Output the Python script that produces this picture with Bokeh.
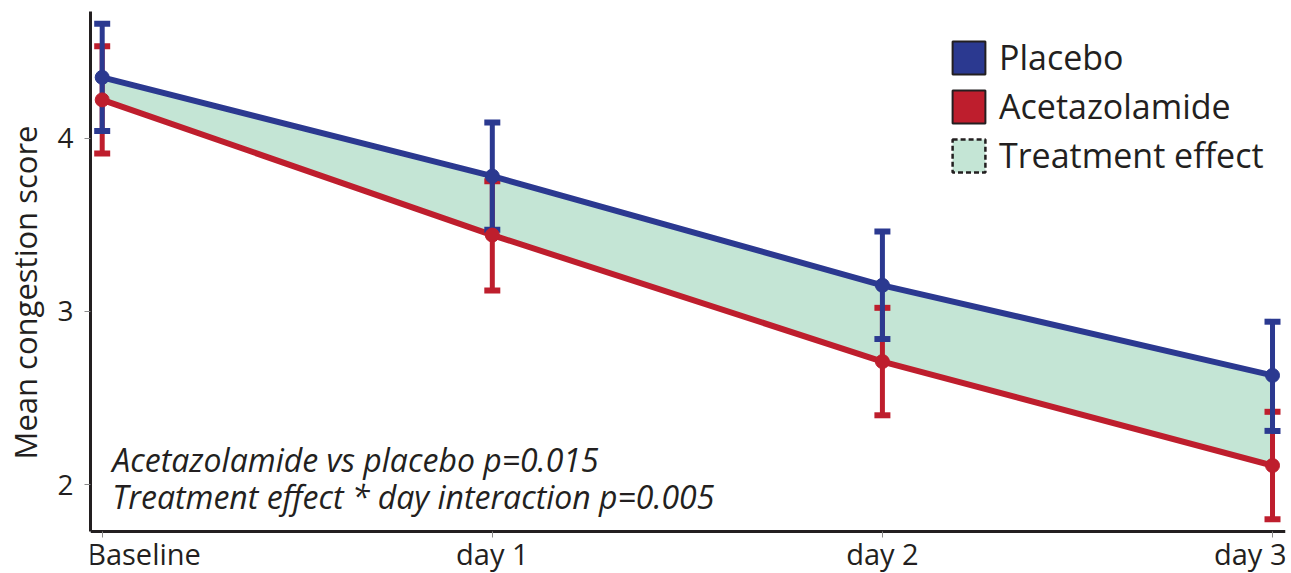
from bokeh.plotting import figure
from bokeh.models import Range1d, FixedTicker, Label, Legend, LegendItem
from bokeh.embed import file_html
from bokeh.resources import INLINE

# ---- data ----
days = ["Baseline", "day 1", "day 2", "day 3"]
day_idx = [0, 1, 2, 3]
placebo_mean = [4.35, 3.78, 3.15, 2.63]
placebo_upper = [4.66, 4.09, 3.46, 2.94]
placebo_lower = [4.04, 3.47, 2.84, 2.31]
aceta_mean = [4.22, 3.44, 2.71, 2.11]
aceta_upper = [4.53, 3.75, 3.02, 2.42]
aceta_lower = [3.91, 3.12, 2.40, 1.80]
y_ticks = [2, 3, 4]
legend_labels = ["Placebo", "Acetazolamide", "Treatment effect"]
notes = ["Acetazolamide vs placebo p=0.015",
         "Treatment effect * day interaction p=0.005"]

BLUE = "#2B3990"
RED = "#BE1E2D"
GREEN = "#C4E5D5"
DARK = "#231F20"
FONT = "Open Sans"

Y_AXIS_POS = 1.729  # value where the x axis line sits
Y_TOP = 4.730

p = figure(width=1291, height=573, output_backend="svg", toolbar_location=None,
           x_range=Range1d(-0.030, 3.0333), y_range=Range1d(1.487, Y_TOP),
           min_border_left=90, min_border_right=6, min_border_top=11,
           min_border_bottom=0)
p.outline_line_color = None
p.grid.visible = False

# axes
for ax in (p.xaxis[0], p.yaxis[0]):
    ax.axis_line_width = 3
    ax.axis_line_color = DARK
    ax.major_tick_line_color = "#8a8a8a"
    ax.major_tick_line_width = 1
    ax.major_tick_out = 6
    ax.major_tick_in = 0
    ax.minor_tick_line_color = None

p.yaxis.ticker = FixedTicker(ticks=y_ticks)
p.yaxis.bounds = (Y_AXIS_POS, Y_TOP)
p.yaxis.major_label_text_font = FONT
p.yaxis.major_label_text_font_size = "28px"
p.yaxis.major_label_text_color = DARK
p.yaxis.major_label_standoff = 11
p.yaxis.axis_label = "Mean congestion score"
p.yaxis.axis_label_text_font = FONT
p.yaxis.axis_label_text_font_size = "31px"
p.yaxis.axis_label_text_font_style = "normal"
p.yaxis.axis_label_text_color = DARK
p.yaxis.axis_label_standoff = 8

p.xaxis.ticker = FixedTicker(ticks=day_idx)
p.xaxis.fixed_location = Y_AXIS_POS
p.xaxis.major_label_overrides = {i: "" for i in day_idx}
p.xaxis.major_label_text_font_size = "0px"
p.xaxis.major_label_standoff = 0

# band
p.varea(x=day_idx, y1=aceta_mean, y2=placebo_mean, fill_color=GREEN)

def series(mean, lower, upper, color):
    p.line(day_idx, mean, line_color=color, line_width=6, line_join="round")
    p.segment(x0=day_idx, y0=lower, x1=day_idx, y1=upper, line_color=color, line_width=5)
    p.rect(x=day_idx + day_idx, y=lower + upper, width=16, height=6,
           width_units="screen", height_units="screen",
           fill_color=color, line_color=None)

series(aceta_mean, aceta_lower, aceta_upper, RED)
series(placebo_mean, placebo_lower, placebo_upper, BLUE)
p.scatter(day_idx, aceta_mean, size=14, color=RED)
p.scatter(day_idx, placebo_mean, size=14, color=BLUE)

# legend proxies (hidden, zero-size quads at the series points)
r_pl = p.quad(left=day_idx, right=day_idx, top=placebo_mean, bottom=placebo_mean,
              fill_color=BLUE, line_color=DARK, line_width=2, visible=False)
r_ac = p.quad(left=day_idx, right=day_idx, top=aceta_mean, bottom=aceta_mean,
              fill_color=RED, line_color=DARK, line_width=2, visible=False)
r_te = p.quad(left=day_idx, right=day_idx, top=placebo_mean, bottom=aceta_mean,
              fill_color=GREEN, line_color=DARK, line_width=2.5, line_dash="5 3",
              visible=False)
legend = Legend(items=[LegendItem(label=legend_labels[0], renderers=[r_pl]),
                       LegendItem(label=legend_labels[1], renderers=[r_ac]),
                       LegendItem(label=legend_labels[2], renderers=[r_te])],
                location=(858, 395), orientation="vertical",
                glyph_width=41, glyph_height=41, label_height=41, spacing=3,
                padding=0, margin=0, label_standoff=10,
                label_text_font=FONT, label_text_font_size="34px",
                label_text_color=DARK, background_fill_alpha=0,
                border_line_alpha=0, inactive_fill_alpha=0)
p.add_layout(legend)

# x tick labels
aligns = ["left", "center", "center", "right"]
offsets = [-15, 0, 0, 14]
for d, lab, al, off in zip(day_idx, days, aligns, offsets):
    p.add_layout(Label(x=d, y=1.6024, text=lab, text_align=al, x_offset=off,
                       text_baseline="middle", text_font=FONT,
                       text_font_size="29px", text_color=DARK))

# annotations
for txt, yy in zip(notes, [2.145, 1.931]):
    p.add_layout(Label(x=0.026, y=yy, text=txt, text_align="left",
                       text_baseline="middle", text_font=FONT,
                       text_font_style="italic", text_font_size="32px",
                       text_color=DARK))

open("out.html", "w").write(file_html(p, INLINE))
